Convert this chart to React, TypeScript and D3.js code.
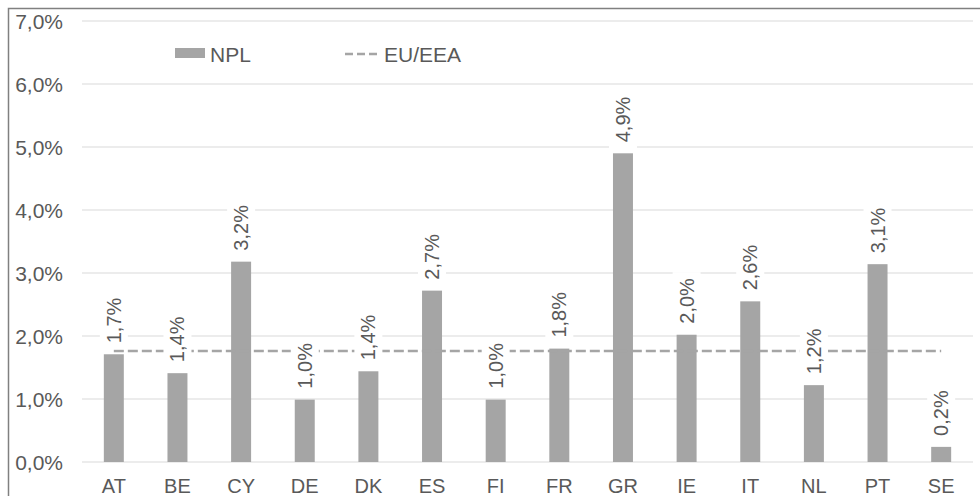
import { useEffect, useRef } from "react";
import * as d3 from "d3";

const categories = ["AT", "BE", "CY", "DE", "DK", "ES", "FI", "FR", "GR", "IE", "IT", "NL", "PT", "SE"];
const nplValues = [1.71, 1.41, 3.18, 0.99, 1.44, 2.72, 0.99, 1.8, 4.9, 2.02, 2.55, 1.22, 3.14, 0.24];
const labelValues = ["1,7%", "1,4%", "3,2%", "1,0%", "1,4%", "2,7%", "1,0%", "1,8%", "4,9%", "2,0%", "2,6%", "1,2%", "3,1%", "0,2%"];
const euEea = 1.76;
const yTicks = [0, 1, 2, 3, 4, 5, 6, 7];

const W = 980;
const H = 496;
const PLOT = { left: 82, right: 973, top: 21, bottom: 462 };

const COLOR_TEXT = "#595959";
const COLOR_BAR = "#a5a5a5";
const COLOR_GRID = "#d9d9d9";
const COLOR_LINE = "#a5a5a5";
const FONT = "'Liberation Sans', Arial, sans-serif";
const FONT_SIZE = "20px";

const fmt = (v: number) => v.toFixed(1).replace(".", ",") + "%";

export default function App() {
  const svgRef = useRef<SVGSVGElement>(null);

  useEffect(() => {
    const svg = d3.select(svgRef.current);
    svg.selectAll("*").remove();

    const x = d3
      .scaleBand<string>()
      .domain(categories)
      .range([PLOT.left, PLOT.right])
      .paddingInner(0.686)
      .paddingOuter(0.343);

    const y = d3.scaleLinear().domain([0, 7]).range([PLOT.bottom, PLOT.top]);
    const cx = (c: string) => (x(c) ?? 0) + x.bandwidth() / 2;

    // Frame
    svg
      .append("rect")
      .attr("x", 8.5)
      .attr("y", 8.5)
      .attr("width", W + 20)
      .attr("height", H + 20)
      .attr("fill", "white")
      .attr("stroke", "#808080")
      .attr("stroke-width", 1.5);

    // Gridlines + y labels
    yTicks.forEach((t) => {
      svg
        .append("line")
        .attr("x1", PLOT.left)
        .attr("x2", PLOT.right)
        .attr("y1", y(t))
        .attr("y2", y(t))
        .attr("stroke", COLOR_GRID)
        .attr("stroke-width", 1);
      svg
        .append("text")
        .attr("x", 63)
        .attr("y", y(t))
        .attr("text-anchor", "end")
        .attr("dominant-baseline", "central")
        .attr("font-family", FONT)
        .attr("font-size", "21px")
        .attr("fill", COLOR_TEXT)
        .text(fmt(t));
    });

    // Bars
    svg
      .selectAll("rect.bar")
      .data(nplValues)
      .join("rect")
      .attr("class", "bar")
      .attr("x", (_, i) => x(categories[i]) ?? 0)
      .attr("width", x.bandwidth())
      .attr("y", (d) => y(d))
      .attr("height", (d) => y(0) - y(d))
      .attr("fill", COLOR_BAR);

    // EU/EEA dashed line
    const line = d3
      .line<string>()
      .x((c) => cx(c))
      .y(() => y(euEea));
    svg
      .append("path")
      .attr("d", line([categories[0], categories[categories.length - 1]]))
      .attr("fill", "none")
      .attr("stroke", COLOR_LINE)
      .attr("stroke-width", 2.5)
      .attr("stroke-dasharray", "10,4");

    // Data labels (rotated, white background)
    nplValues.forEach((v, i) => {
      const c = categories[i];
      const g = svg
        .append("g")
        .attr("transform", `translate(${cx(c)},${y(v) - 11}) rotate(-90)`);
      const bg = g.append("rect").attr("fill", "white");
      const t = g
        .append("text")
        .attr("x", 0)
        .attr("y", 0)
        .attr("dominant-baseline", "central")
        .attr("font-family", FONT)
        .attr("font-size", FONT_SIZE)
        .attr("fill", COLOR_TEXT)
        .text(labelValues[i]);
      const len = (t.node() as SVGTextElement).getComputedTextLength();
      bg.attr("x", -6).attr("y", -14).attr("width", len + 12).attr("height", 28);
    });

    // X labels
    categories.forEach((c) => {
      svg
        .append("text")
        .attr("x", cx(c))
        .attr("y", 493)
        .attr("text-anchor", "middle")
        .attr("font-family", FONT)
        .attr("font-size", FONT_SIZE)
        .attr("fill", COLOR_TEXT)
        .text(c);
    });

    // Legend
    svg
      .append("rect")
      .attr("x", 175)
      .attr("y", 48)
      .attr("width", 30)
      .attr("height", 10)
      .attr("fill", COLOR_BAR);
    svg
      .append("text")
      .attr("x", 210)
      .attr("y", 54)
      .attr("dominant-baseline", "central")
      .attr("font-family", FONT)
      .attr("font-size", "21px")
      .attr("fill", COLOR_TEXT)
      .text("NPL");
    svg
      .append("line")
      .attr("x1", 345)
      .attr("x2", 379)
      .attr("y1", 54)
      .attr("y2", 54)
      .attr("stroke", COLOR_LINE)
      .attr("stroke-width", 2.5)
      .attr("stroke-dasharray", "8,4");
    svg
      .append("text")
      .attr("x", 384)
      .attr("y", 54)
      .attr("dominant-baseline", "central")
      .attr("font-family", FONT)
      .attr("font-size", "21px")
      .attr("fill", COLOR_TEXT)
      .text("EU/EEA");
  }, []);

  return (
    <svg
      ref={svgRef}
      width={W}
      height={H}
      style={{ position: "absolute", left: 0, top: 0, display: "block" }}
    />
  );
}
